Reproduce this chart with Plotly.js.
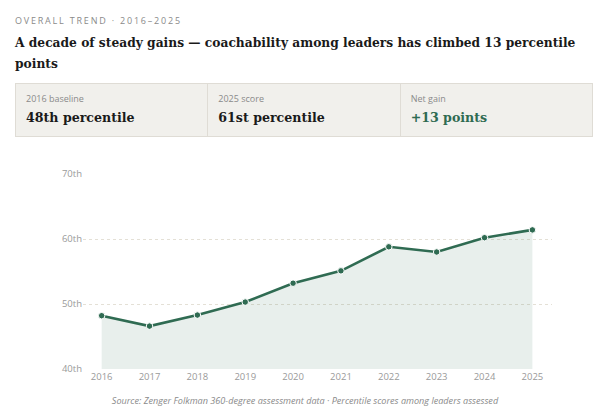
<!DOCTYPE html>
<html>
<head>
<meta charset="utf-8">
<script src="https://cdn.plot.ly/plotly-3.0.1.min.js"></script>
<style>
  html, body { margin:0; padding:0; background:#fff; }
  #wrap { position:relative; width:600px; height:411px; overflow:hidden; }
  #chart { position:absolute; left:0; top:0; width:600px; height:411px; }
  .eyebrow { position:absolute; left:15px; top:14px; font-family:"Open Sans", sans-serif; font-size:9px; letter-spacing:1.8px; color:#8a8a8a; line-height:14px; white-space:nowrap; }
  .title { position:absolute; left:15px; top:32px; width:584px; font-family:"DejaVu Serif", serif; font-weight:bold; font-size:12.25px; line-height:21px; color:#1a1a1a; }
  .cards { position:absolute; left:15px; top:83px; width:576px; height:52px; background:#f1f0ec; border:1px solid #dfdcd5; display:flex; }
  .card { flex:1; position:relative; border-left:1px solid #dfdcd5; }
  .card:first-child { border-left:none; }
  .card .lab { position:absolute; left:10px; top:9px; font-family:"Open Sans", sans-serif; font-size:9px; color:#8a8a8a; line-height:12px; white-space:nowrap; }
  .card .val { position:absolute; left:10px; top:25px; font-family:"DejaVu Serif", serif; font-weight:bold; font-size:12.6px; color:#1a1a1a; line-height:18px; white-space:nowrap; }
  .card .val.green { color:#2f6b52; }
  .source { position:absolute; left:0; width:610px; top:394px; text-align:center; font-family:"Open Sans", sans-serif; font-style:italic; font-size:9.1px; color:#8a8a8a; line-height:13px; white-space:nowrap; }
</style>
</head>
<body>
<div id="wrap">
  <div id="chart"></div>
  <div class="eyebrow">OVERALL TREND · 2016–2025</div>
  <div class="title">A decade of steady gains — coachability among leaders has climbed 13 percentile<br>points</div>
  <div class="cards">
    <div class="card"><div class="lab">2016 baseline</div><div class="val">48th percentile</div></div>
    <div class="card"><div class="lab">2025 score</div><div class="val">61st percentile</div></div>
    <div class="card"><div class="lab">Net gain</div><div class="val green">+13 points</div></div>
  </div>
  <div class="source">Source: Zenger Folkman 360-degree assessment data · Percentile scores among leaders assessed</div>
</div>
<script>
const years = [2016, 2017, 2018, 2019, 2020, 2021, 2022, 2023, 2024, 2025];
const percentile = [48.2, 46.6, 48.3, 50.3, 53.2, 55.1, 58.8, 58.0, 60.2, 61.4];
const yTickVals = [40, 50, 60, 70];
const yTickText = ["40th", "50th", "60th", "70th"];

const green = "#2f6b52";
const trace = {
  x: years,
  y: percentile,
  type: "scatter",
  mode: "lines+markers",
  fill: "tozeroy",
  fillcolor: "rgba(47,107,82,0.11)",
  line: { color: green, width: 2.6 },
  marker: { color: green, size: 6.5, line: { color: "#ffffff", width: 1 } },
  hoverinfo: "skip"
};

const layout = {
  width: 600, height: 411,
  margin: { l: 83, r: 48, t: 174, b: 42 },
  paper_bgcolor: "rgba(0,0,0,0)",
  plot_bgcolor: "rgba(0,0,0,0)",
  showlegend: false,
  xaxis: {
    range: [2015.61, 2025.41],
    tickvals: years,
    ticktext: years.map(String),
    showgrid: false, zeroline: false, showline: false,
    ticks: "",
    tickfont: { family: "Open Sans, sans-serif", size: 9.5, color: "#9a9a9a" }
  },
  yaxis: {
    range: [40, 70],
    tickvals: yTickVals,
    ticktext: yTickText,
    showgrid: true, gridcolor: "#e4e0d6", gridwidth: 1, griddash: "dot",
    zeroline: false, showline: false, ticks: "",
    tickfont: { family: "Open Sans, sans-serif", size: 9.5, color: "#9a9a9a" }
  }
};

Plotly.newPlot("chart", [trace], layout, { displayModeBar: false, staticPlot: true });
</script>
</body>
</html>
